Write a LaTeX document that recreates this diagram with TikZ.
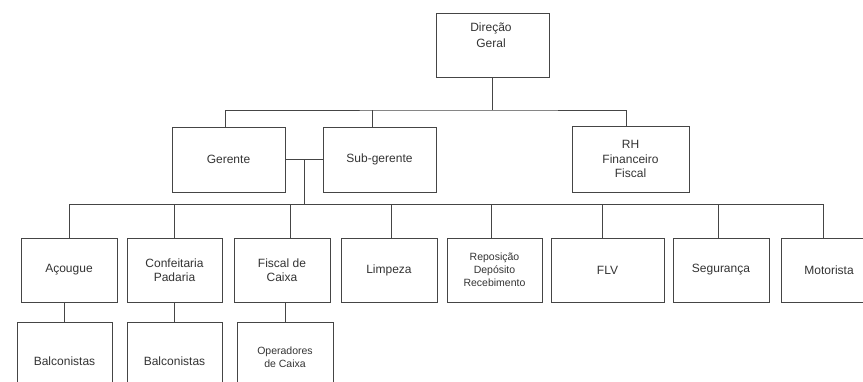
\documentclass[tikz,border=0pt]{standalone}
\usepackage{fontspec}
\setmainfont{Liberation Sans}
\definecolor{ln}{HTML}{454545}
\definecolor{tx}{HTML}{333333}
\begin{document}
\begin{tikzpicture}[x=1pt,y=-1pt,
  box/.style={draw=ln, line width=1pt, inner sep=0pt, align=center, text=tx,
    font=\fontsize{12}{14.5}\selectfont},
  lbl/.style={inner sep=0pt, align=center, text=tx, font=\fontsize{12}{16.5}\selectfont},
  small/.style={font=\fontsize{10.5}{13}\selectfont},
  conn/.style={draw=ln, line width=1pt}]
\useasboundingbox (0,0) rectangle (863,381);
\clip (0,0) rectangle (863,381);
% level 1
\node[box, minimum width=113pt, minimum height=64pt] (dg) at (492.5,45) {};
\node[lbl] (dgt) at (491,35) {Direção\\Geral};
% level 2
\node[box, minimum width=113pt, minimum height=65pt] (ger) at (228.5,159.5) {Gerente};
\node[box, minimum width=113pt, minimum height=65pt] (sub) at (379.5,159.5) {Sub-gerente};
\node[box, minimum width=117pt, minimum height=66pt] (rh) at (630.5,159) {RH\\Financeiro\\Fiscal};
% level 3
\node[box, minimum width=96pt, minimum height=64pt] (aco) at (69,270) {Açougue};
\node[box, minimum width=95pt, minimum height=64pt] (conf) at (174.5,270) {Confeitaria\\Padaria};
\node[box, minimum width=96pt, minimum height=64pt] (fis) at (282,270) {Fiscal de\\Caixa};
\node[box, minimum width=96pt, minimum height=64pt] (lim) at (389,270) {Limpeza};
\node[box, small, minimum width=95pt, minimum height=64pt] (rep) at (494.5,270) {Reposição\\Depósito\\Recebimento};
\node[box, minimum width=113pt, minimum height=64pt] (flv) at (607.5,270) {FLV};
\node[box, minimum width=96pt, minimum height=64pt] (seg) at (721,270) {Segurança};
\node[box, minimum width=96pt, minimum height=64pt] (mot) at (829,270) {Motorista};
% level 4
\node[box, minimum width=95pt, minimum height=78pt] (bal1) at (64.5,361) {Balconistas};
\node[box, minimum width=95pt, minimum height=78pt] (bal2) at (174.5,361) {Balconistas};
\node[box, small, minimum width=96pt, minimum height=70pt] (ope) at (285,357) {Operadores\\de Caixa};
% bus coordinates
\coordinate (b1) at (491,110);
\coordinate (b2) at (304,204);
% connectors
\draw[conn] (dg.south) -- (dg.south |- b1);
\draw[conn] ([xshift=-3.5pt]ger.north) |- (b1) -| ([xshift=-4.5pt]rh.north);
\draw[conn] ([xshift=-7.5pt]sub.north) -- ([xshift=-7.5pt]sub.north |- b1);
\draw[conn] (ger.east) -- (sub.west);
\draw[conn] (b2 |- ger.east) -- (b2);
\draw[conn] (aco.north |- b2) -- ([xshift=-6pt]mot.north |- b2);
\foreach \n/\s in {aco/0,conf/-0.5,fis/8,lim/2,rep/-3.5,flv/-5.5,seg/-3,mot/-6}
  \draw[conn] ([xshift=\s pt]\n.north) -- ([xshift=\s pt]\n.north |- b2);
\draw[conn] (bal1.north) -- (bal1.north |- aco.south);
\draw[conn] (bal2.north) -- (bal2.north |- conf.south);
\draw[conn] (ope.north) -- (ope.north |- fis.south);
\end{tikzpicture}
\end{document}
